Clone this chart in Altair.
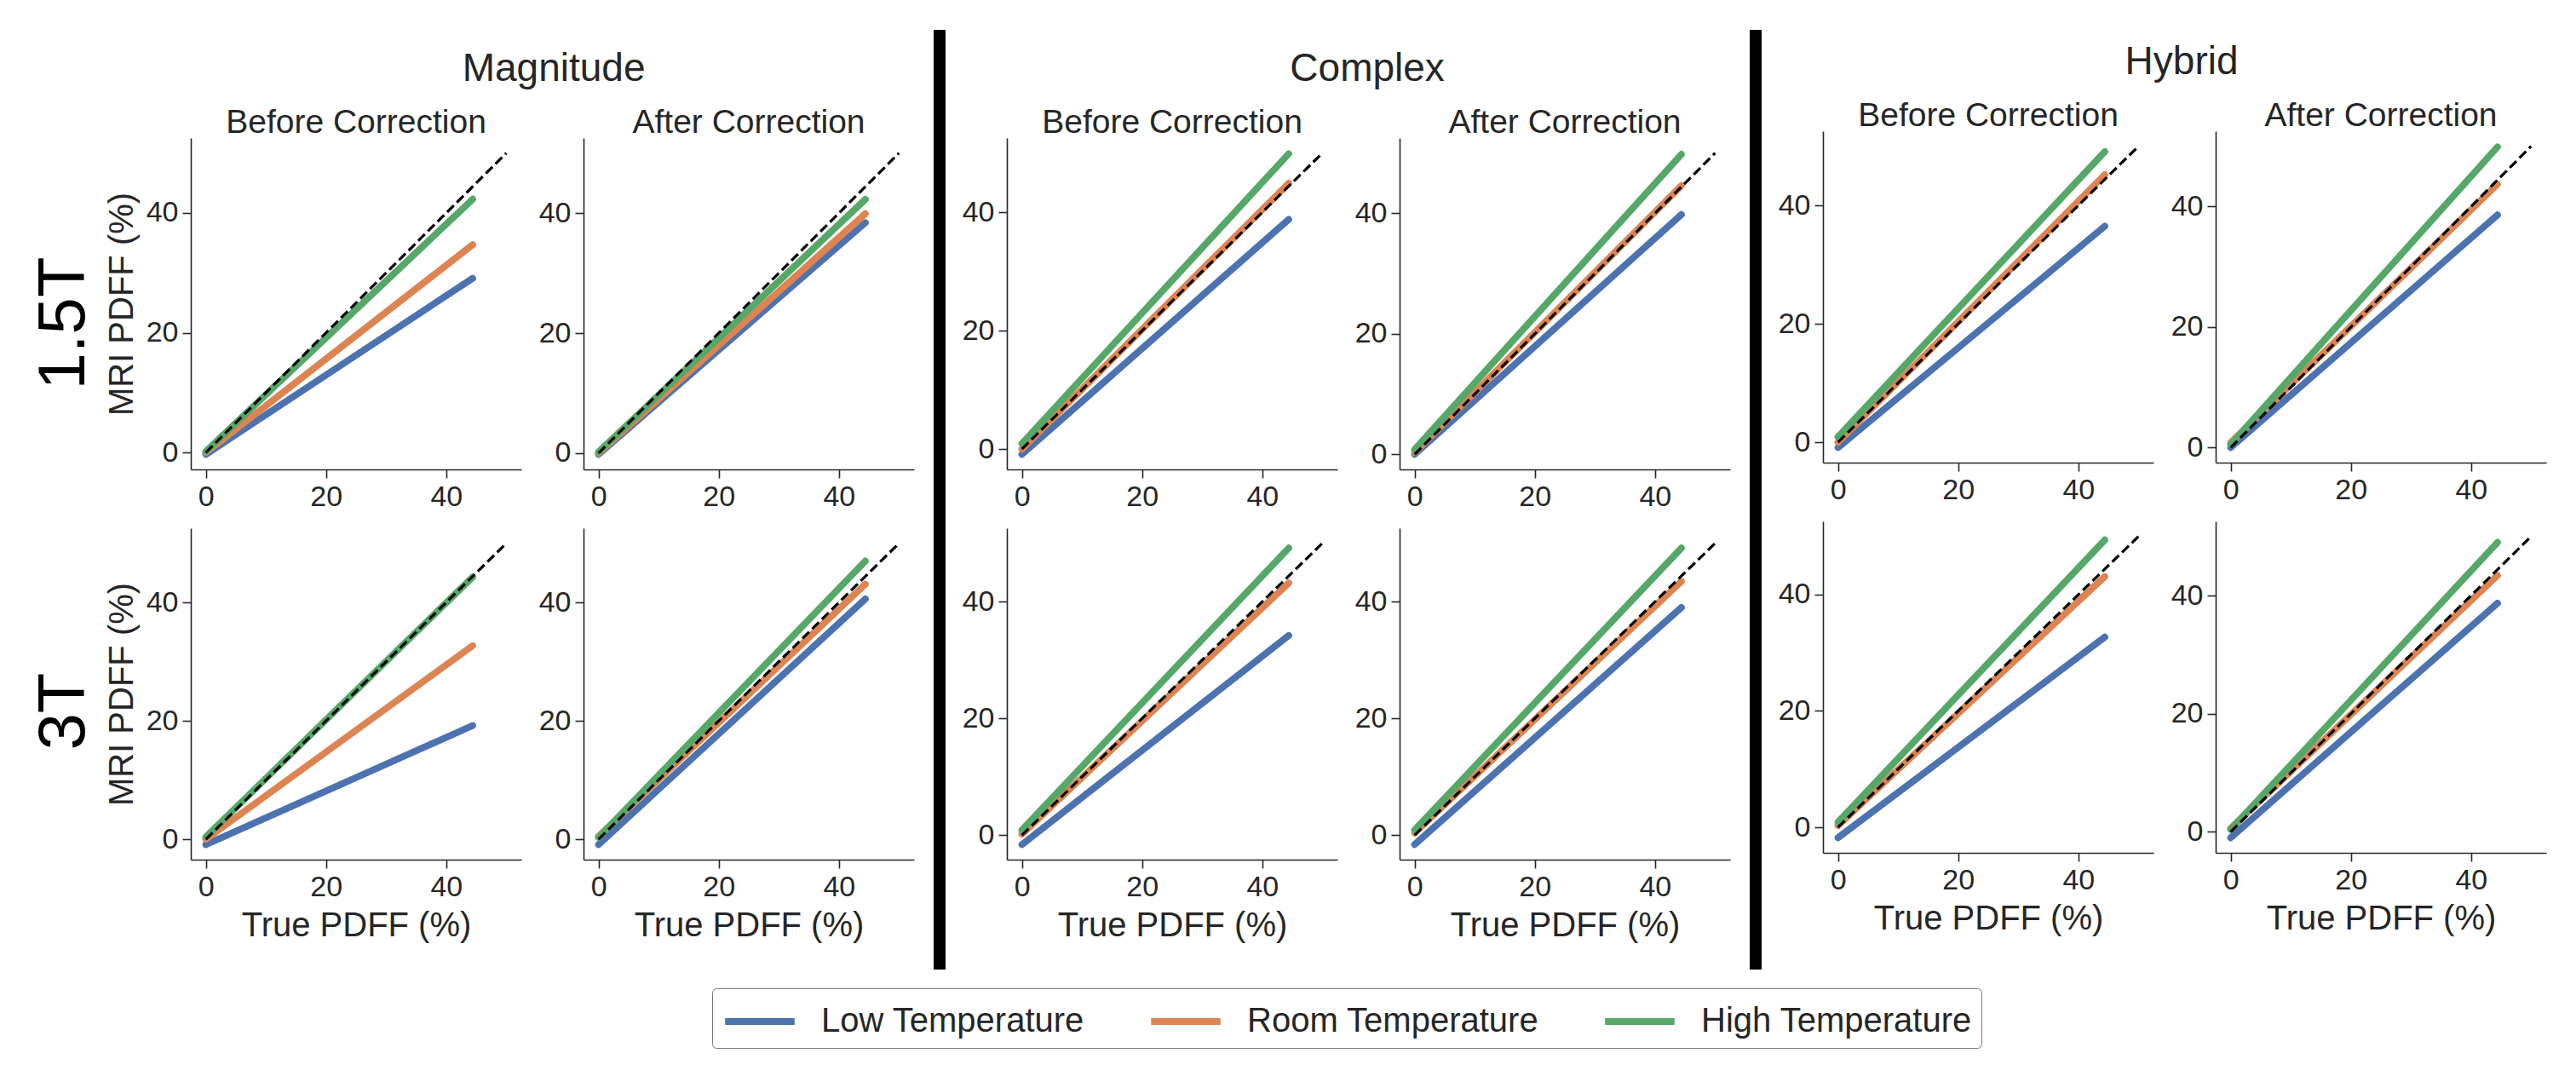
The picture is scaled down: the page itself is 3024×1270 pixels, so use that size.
import altair as alt
import pandas as pd

# ---------------- data ----------------
temps = ["Low Temperature", "Room Temperature", "High Temperature"]
colors = ["#4C72B0", "#DD8452", "#55A868"]

true_pdff = [0.0, 44.4]      # True PDFF (%) at the two ends of each fitted line
identity = [0.0, 50.0]       # dashed y = x reference line
x_ticks = [0, 20, 40]
y_ticks = [0, 20, 40]

# MRI PDFF (%) at the start / end of each line, order: low, room, high
t15_mag_before = [[-0.3, 29.1], [0.0, 34.7], [0.2, 42.3]]
t15_mag_after = [[-0.2, 38.4], [0.0, 39.9], [0.2, 42.3]]
t15_cplx_before = [[-0.9, 38.8], [0.0, 44.9], [0.9, 49.9]]
t15_cplx_after = [[0.0, 39.8], [0.3, 44.6], [0.8, 49.8]]
t15_hyb_before = [[-0.9, 36.5], [0.0, 45.2], [0.9, 49.1]]
t15_hyb_after = [[0.0, 38.6], [0.8, 43.7], [0.5, 49.9]]

t3_mag_before = [[-0.9, 19.2], [0.0, 32.7], [0.4, 44.3]]
t3_mag_after = [[-0.9, 40.6], [0.5, 43.1], [0.3, 47.0]]
t3_cplx_before = [[-1.6, 34.2], [0.2, 43.2], [0.9, 49.2]]
t3_cplx_after = [[-1.6, 39.0], [0.4, 43.5], [0.9, 49.2]]
t3_hyb_before = [[-1.8, 32.7], [0.3, 43.1], [0.9, 49.4]]
t3_hyb_after = [[-1.0, 38.7], [0.6, 43.4], [0.4, 49.0]]

methods = ["Magnitude", "Complex", "Hybrid"]
corrections = ["Before Correction", "After Correction"]
fields = ["1.5T", "3T"]

# ---------------- style ----------------
FONT = "Liberation Sans"
INK = "#262626"
PW, PH = 388, 389
LW = 8


def line_df(vals):
    rows = []
    for t, (a, b) in zip(temps, vals):
        for xv, yv in zip(true_pdff, (a, b)):
            rows.append({"Temperature": t, "x": xv, "y": yv})
    return pd.DataFrame(rows)


def panel(vals, title=None, ytitle=None, xtitle=None):
    df = line_df(vals)
    lo = min(min(v[0] for v in vals), identity[0])
    hi = max(max(v[1] for v in vals), identity[1])
    pad = 0.05 * (hi - lo)
    xs = alt.Scale(domain=[identity[0] - 2.5, identity[1] + 2.5], nice=False, zero=False)
    ys = alt.Scale(domain=[lo - pad, hi + pad], nice=False, zero=False)
    xax = alt.Axis(values=x_ticks, title=xtitle)
    yax = alt.Axis(values=y_ticks, title=ytitle)
    xenc = alt.X("x:Q", scale=xs, axis=xax)
    yenc = alt.Y("y:Q", scale=ys, axis=yax)
    lines = alt.Chart(df).mark_line(strokeWidth=LW, strokeCap="round").encode(
        x=xenc,
        y=yenc,
        color=alt.Color(
            "Temperature:N",
            scale=alt.Scale(domain=temps, range=colors),
            sort=temps,
            legend=alt.Legend(title=None),
        ),
    )
    ref = alt.Chart(pd.DataFrame({"x": identity, "y": identity})).mark_line(
        color="black", strokeDash=[11, 5], strokeWidth=3.2
    ).encode(x=xenc, y=yenc)
    ch = alt.layer(lines, ref).properties(width=PW, height=PH)
    if title:
        ch = ch.properties(
            title=alt.TitleParams(title, fontSize=39, frame="group", offset=-2)
        )
    return ch


def group(name, top_vals, bottom_vals, first, dx):
    ytitle = "MRI PDFF (%)" if first else None
    p_tl = panel(top_vals[0], corrections[0], ytitle)
    p_tr = panel(top_vals[1], corrections[1])
    p_bl = panel(bottom_vals[0], None, ytitle, "True PDFF (%)")
    p_br = panel(bottom_vals[1], None, None, "True PDFF (%)")
    if first:
        row1 = alt.hconcat(p_tl, p_tr, spacing=20, title=alt.TitleParams(
            fields[0], orient="left", fontSize=78, color="black", anchor="middle",
            offset=8, dx=-17))
        row2 = alt.hconcat(p_bl, p_br, spacing=20, title=alt.TitleParams(
            fields[1], orient="left", fontSize=78, color="black", anchor="middle",
            offset=8, dx=28))
    else:
        row1 = alt.hconcat(p_tl, p_tr, spacing=20)
        row2 = alt.hconcat(p_bl, p_br, spacing=20)
    g = alt.vconcat(row1, row2, spacing=20, title=alt.TitleParams(
        name, fontSize=46, anchor="middle", dx=dx, offset=20))
    return g.resolve_scale(x="independent", y="independent")


def separator():
    return alt.Chart(pd.DataFrame({"s": [0]})).mark_rule(
        color="black", strokeWidth=14
    ).encode(
        x=alt.value(30), y=alt.value(20), y2=alt.value(1123)
    ).properties(width=56, height=1238)


g_mag = group(methods[0], [t15_mag_before, t15_mag_after], [t3_mag_before, t3_mag_after], True, 95)
g_cplx = group(methods[1], [t15_cplx_before, t15_cplx_after], [t3_cplx_before, t3_cplx_after], False, 25)
g_hyb_inner = group(methods[2], [t15_hyb_before, t15_hyb_after], [t3_hyb_before, t3_hyb_after], False, 23)
# the Hybrid block sits slightly higher in the original figure
g_hyb = alt.vconcat(
    g_hyb_inner, title=alt.TitleParams(" ", orient="bottom", fontSize=10, offset=6)
).resolve_scale(x="independent", y="independent")

chart = alt.hconcat(
    g_mag, separator(), g_cplx, separator(), g_hyb, spacing=0, center=True
).resolve_scale(
    x="independent", y="independent", color="shared"
).properties(
    padding={"left": 29, "top": 7, "right": 5, "bottom": 5}
).configure_view(
    strokeWidth=0
).configure_axis(
    grid=False,
    domainColor=INK,
    domainWidth=1.6,
    tickColor=INK,
    tickWidth=1.6,
    tickSize=10,
    labelFont=FONT,
    labelFontSize=34,
    labelColor=INK,
    labelPadding=5,
    labelFlush=False,
    titleFont=FONT,
    titleFontSize=40,
    titleFontWeight="normal",
    titleColor=INK,
    titlePadding=8,
).configure_title(
    font=FONT,
    fontWeight="normal",
    color=INK,
).configure_legend(
    orient="none",
    legendX=612,
    legendY=1145,
    direction="horizontal",
    columns=3,
    symbolType="M-1.7,0L1.7,0",
    symbolSize=2304,
    symbolOffset=17,
    symbolStrokeWidth=LW,
    labelFont=FONT,
    labelFontSize=40,
    labelColor=INK,
    labelOffset=44,
    columnPadding=61,
    padding=11,
    strokeColor="#777777",
    cornerRadius=5,
    fillColor="white",
    labelLimit=600,
)

chart.save("out.html", embed_options={"renderer": "svg", "actions": False})
